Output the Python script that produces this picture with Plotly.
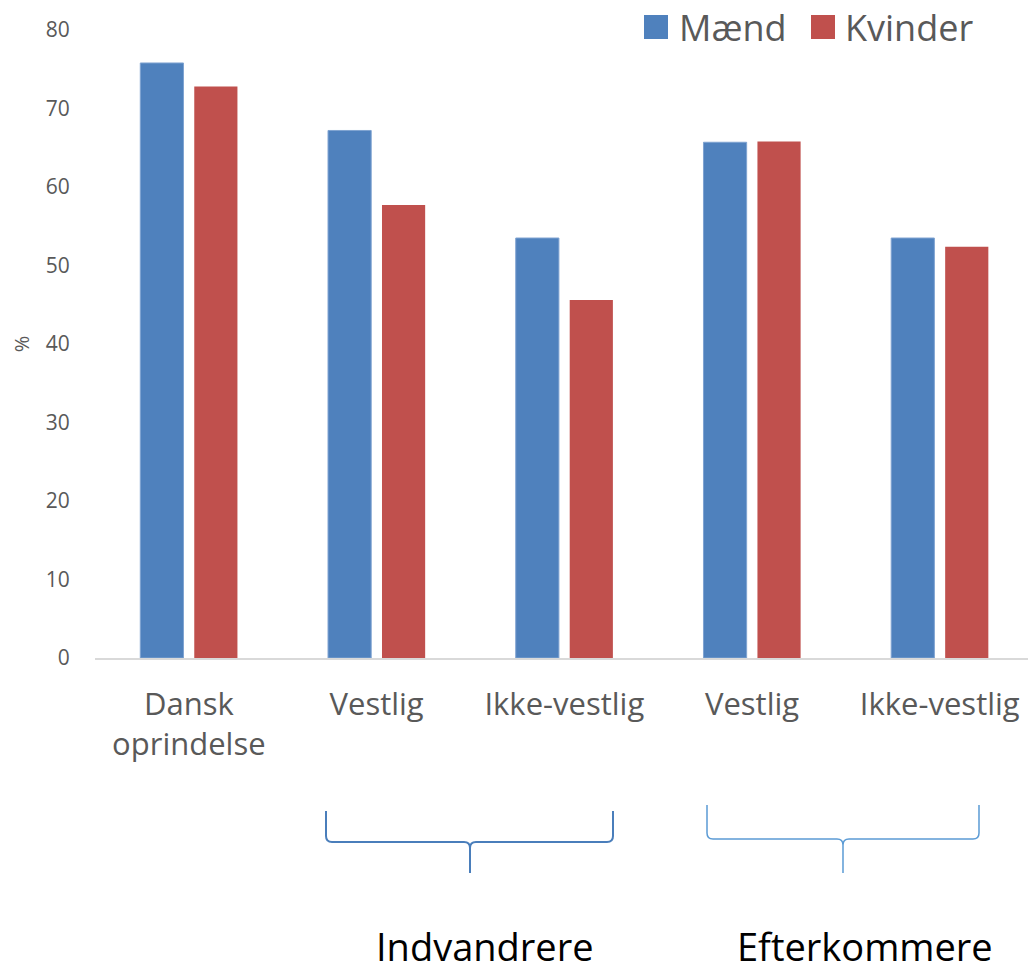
import plotly.graph_objects as go

categories = ["Dansk<br>oprindelse", "Vestlig", "Ikke-vestlig", "Vestlig", "Ikke-vestlig"]
maend = [75.8, 67.2, 53.5, 65.7, 53.5]
kvinder = [72.8, 57.7, 45.6, 65.8, 52.4]
groups = ["Indvandrere", "Efterkommere"]

FONT = "Open Sans"
GREY = "#595959"
W, H = 1028, 973
L, R, T, B = 95, 1028, 30, 658  # plot area in pixels


def px(x, y):
    # pixel position -> paper coordinates
    return (x - L) / (R - L), (B - y) / (B - T)


def brace(x0, x1, xm, top, bot, tip, r=6):
    pts = [
        ("M", x0, top), ("L", x0, bot - r), ("Q", x0, bot, x0 + r, bot),
        ("L", xm - r, bot), ("Q", xm, bot, xm, bot + r), ("L", xm, tip),
        ("M", xm, bot + r), ("Q", xm, bot, xm + r, bot),
        ("L", x1 - r, bot), ("Q", x1, bot, x1, bot - r), ("L", x1, top),
    ]
    out = []
    for p in pts:
        cmd, coords = p[0], p[1:]
        s = []
        for i in range(0, len(coords), 2):
            a, b = px(coords[i], coords[i + 1])
            s.append(f"{a:.5f},{b:.5f}")
        out.append(cmd + " " + " ".join(s))
    return " ".join(out)


xs = list(range(len(categories)))

fig = go.Figure()
fig.add_trace(go.Bar(x=xs, y=maend, name="Mænd", marker_color="#4F81BD",
                     marker_line=dict(color="#7FA3D1", width=1)))
fig.add_trace(go.Bar(x=xs, y=kvinder, name="Kvinder", marker_color="#C0504D",
                     marker_line_width=0))

shapes = [
    dict(type="path", xref="paper", yref="paper",
         path=brace(326, 613, 470, 811, 842, 873),
         line=dict(color="#4A7EBB", width=2)),
    dict(type="path", xref="paper", yref="paper",
         path=brace(707, 979, 843, 805, 839, 873),
         line=dict(color="#5B9BD5", width=1.5)),
]

# legend drawn by hand so the swatches match the big text
for (x0, name, col) in [(644, "Mænd", "#4F81BD"), (811, "Kvinder", "#C0504D")]:
    a0, b0 = px(x0, 39)
    a1, b1 = px(x0 + 24, 15)
    shapes.append(dict(type="rect", xref="paper", yref="paper",
                       x0=a0, y0=b0, x1=a1, y1=b1, fillcolor=col, line_width=0))

annotations = []
for (x0, name) in [(677, "Mænd"), (843, "Kvinder")]:
    a, b = px(x0, 28)
    annotations.append(dict(x=a, y=b, xref="paper", yref="paper", text=name,
                            showarrow=False, xanchor="left", yanchor="middle",
                            font=dict(family=FONT, size=36, color=GREY)))

for (cx, label) in zip([485, 865], groups):
    a, b = px(cx, 946)
    annotations.append(dict(x=a, y=b, xref="paper", yref="paper", text=label,
                            showarrow=False, xanchor="center", yanchor="middle",
                            font=dict(family=FONT, size=38, color="#000000")))

fig.update_layout(
    width=W, height=H,
    margin=dict(l=L, r=W - R, t=T, b=H - B, pad=0),
    plot_bgcolor="white", paper_bgcolor="white",
    barmode="group", bargap=0.425, bargroupgap=0.2,
    showlegend=False,
    shapes=shapes, annotations=annotations,
    font=dict(family=FONT, color=GREY),
)
fig.update_xaxes(
    tickvals=xs, ticktext=categories, range=[-0.5, 4.47],
    showline=True, linecolor="#D9D9D9", linewidth=1.5,
    showgrid=False, zeroline=False,
    ticks="outside", ticklen=18, tickcolor="rgba(0,0,0,0)",
    tickfont=dict(family=FONT, size=31, color=GREY),
)
fig.update_yaxes(
    range=[0, 80], dtick=10, showgrid=False, zeroline=False, showline=False,
    ticks="outside", ticklen=20, tickcolor="rgba(0,0,0,0)",
    tickfont=dict(family=FONT, size=21, color=GREY),
    title=dict(text="%", font=dict(family=FONT, size=20, color=GREY), standoff=10),
)

# drop the browser's default body margin so the figure fills the window
fig.write_html("out.html", config={"displayModeBar": False},
               post_script="document.body.style.margin='0';")
